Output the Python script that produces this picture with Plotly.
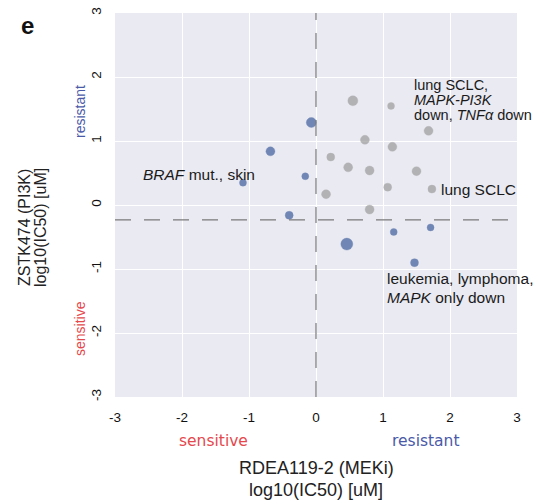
import plotly.graph_objects as go

# Gray (non-annotated) cell lines
gray_x = [0.55, 1.12, 1.68, 0.73, 1.14, 0.22, 0.48, 0.80, 1.50, 1.07, 1.73, 0.15, 0.80]
gray_y = [1.63, 1.55, 1.16, 1.02, 0.91, 0.75, 0.59, 0.54, 0.53, 0.28, 0.25, 0.17, -0.07]
gray_size = [10, 7, 9, 9, 9, 8, 9, 9, 9, 8, 8, 9, 9]

# Blue cell lines
blue_x = [-0.07, -0.68, -0.16, -1.09, -0.40, 1.16, 1.71, 0.46, 1.47]
blue_y = [1.29, 0.84, 0.45, 0.35, -0.16, -0.42, -0.35, -0.61, -0.90]
blue_size = [10, 9, 7, 7, 8, 7, 7, 12, 8]

x_ticks = [-3, -2, -1, 0, 1, 2, 3]
y_ticks = [-3, -2, -1, 0, 1, 2, 3]
h_threshold = -0.23
v_threshold = 0.0

FONT = "Liberation Sans, Arial, sans-serif"
FONT2 = "DejaVu Sans, sans-serif"
GRAY = "#9b9b9b"
BLUE = "#3d5c9a"
RED_T = "#e5484d"
BLUE_T = "#4a5aa8"

# plot area at x 115..517, y 13..397 of the 539x503 window
W, H = 539, 503
ML, MT, MR, MB = 115, 13, 22, 106
PW = W - ML - MR   # 402
PH = H - MT - MB   # 384

def px(xp):   # page pixel -> paper x
    return (xp - ML) / PW

def py(yp):   # page pixel -> paper y
    return 1 - (yp - MT) / PH

fig = go.Figure()
fig.add_trace(go.Scatter(
    x=gray_x, y=gray_y, mode="markers",
    marker=dict(color=GRAY, size=gray_size, line=dict(width=1, color="rgba(155,155,155,0.35)")),
    showlegend=False, hoverinfo="skip"))
fig.add_trace(go.Scatter(
    x=blue_x, y=blue_y, mode="markers",
    marker=dict(color=BLUE, size=blue_size, line=dict(width=1, color="rgba(61,92,154,0.35)")),
    showlegend=False, hoverinfo="skip"))

fig.add_vline(x=v_threshold, line=dict(color="#7a7a7a", width=1.2, dash="16px,13px"), layer="above")
fig.add_hline(y=h_threshold, line=dict(color="#7a7a7a", width=1.2, dash="16px,13px"), layer="above")

ann = []
def A(text, x, y, xref="x", yref="y", size=15.5, color="#1a1a1a", family=FONT,
      xanchor="center", yanchor="middle", **kw):
    d = dict(text=text, x=x, y=y, xref=xref, yref=yref, showarrow=False,
             xanchor=xanchor, yanchor=yanchor,
             font=dict(family=family, size=size, color=color))
    d.update(kw)
    ann.append(d)

# in-plot labels (data coordinates, one annotation per line)
A("lung SCLC,", 1.43, 1.88, xanchor="left", size=14.5)
A("<i>MAPK-PI3K</i>", 1.43, 1.64, xanchor="left", size=14.5)
A("down, <i>TNFα</i> down", 1.43, 1.40, xanchor="left", size=14.5)
A("lung SCLC", 1.83, 0.25, xanchor="left")
A("<i>BRAF</i> mut., skin", -2.61, 0.47, xanchor="left")
A("leukemia, lymphoma,", 1.03, -1.14, xanchor="left")
A("<i>MAPK</i> only down", 1.03, -1.45, xanchor="left")

# panel letter
A("<b>e</b>", px(27), py(25), xref="paper", yref="paper", size=24, color="#111")

# x axis titles
A("RDEA119-2 (MEKi)", 0.5, py(468), xref="paper", yref="paper", size=18, color="#222")
A("log10(IC50) [uM]", 0.5, py(490), xref="paper", yref="paper", size=18, color="#222")
A("sensitive", px(213), py(441), xref="paper", yref="paper", size=15.5,
  color=RED_T, family=FONT2)
A("resistant", px(426), py(441), xref="paper", yref="paper", size=15.5,
  color=BLUE_T, family=FONT2)

# y axis titles
A("ZSTK474 (PI3K)", px(24), py(228), xref="paper", yref="paper", textangle=-90,
  size=16, color="#222")
A("log10(IC50) [uM]", px(40), py(228), xref="paper", yref="paper", textangle=-90,
  size=16, color="#222")
A("resistant", px(80), py(112), xref="paper", yref="paper", textangle=-90, size=14, color=BLUE_T)
A("sensitive", px(80), py(329), xref="paper", yref="paper", textangle=-90, size=14, color=RED_T)

fig.update_layout(
    width=W, height=H,
    margin=dict(l=ML, r=MR, t=MT, b=MB, autoexpand=False),
    paper_bgcolor="white", plot_bgcolor="#eaeaf2",
    font=dict(family=FONT, size=14, color="#222"),
    annotations=ann,
    xaxis=dict(range=[-3, 3], tickvals=x_ticks, ticktext=[str(v) for v in x_ticks],
               showgrid=True, gridcolor="white", gridwidth=1.3, zeroline=False,
               showline=False, ticks="", ticklabelstandoff=10,
               tickfont=dict(family=FONT, size=13.5, color="#111")),
    yaxis=dict(range=[-3, 3.002], tickvals=y_ticks, ticktext=[str(v) for v in y_ticks],
               showgrid=True, gridcolor="white", gridwidth=1.3, zeroline=False,
               showline=False, ticks="", tickangle=-90, ticklabelstandoff=10,
               tickfont=dict(family=FONT, size=13.5, color="#111")),
)

fig.write_html("out.html", config={"displayModeBar": False},
               post_script="document.body.style.margin='0';document.body.style.overflow='hidden';")
